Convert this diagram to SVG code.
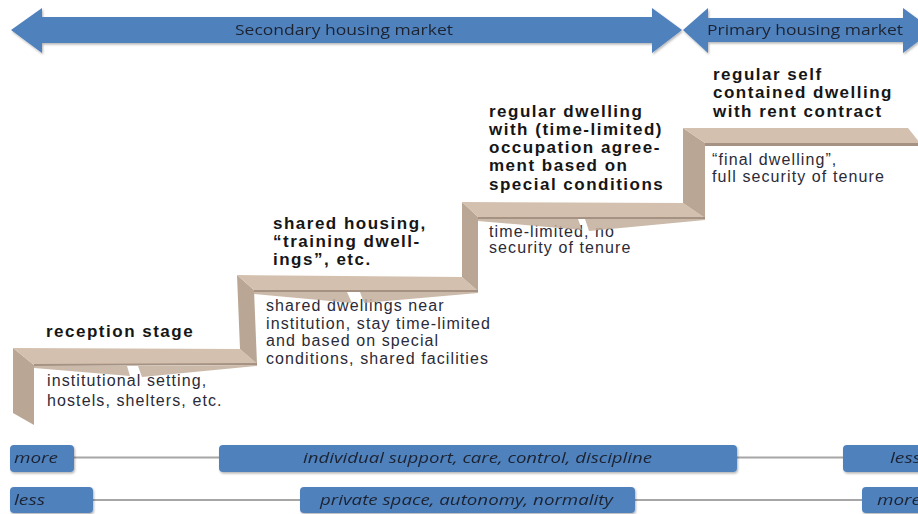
<svg xmlns="http://www.w3.org/2000/svg" width="918" height="514" viewBox="0 0 918 514">
  <defs>
    <style>
      .arrow { fill: #4f81bd; }
      .mk { font-family: "Open Sans", "Liberation Sans", sans-serif; font-size: 14px; fill: #1c2433; }
      .bar { fill: #4f81bd; }
      .bt { font-family: "Open Sans", "Liberation Sans", sans-serif; font-size: 14px; font-style: italic; fill: #1c2433; }
      .tread { fill: #d4c0ae; }
      .riser { fill: #b9a694; }
      .wedge { fill: #c2ad9a; opacity: 0.85; }
      .lip { fill: #a59282; }
      .title { font-family: "Liberation Sans", Arial, sans-serif; font-weight: bold; font-size: 17px; letter-spacing: 1.5px; fill: #161616; }
      .desc { font-family: "Liberation Sans", Arial, sans-serif; font-size: 16px; letter-spacing: 1.1px; fill: #2b2b38; }
      .conn { stroke: #a6a6a6; stroke-width: 2; fill: none; }
    </style>
    <filter id="shadow" x="-5%" y="-20%" width="110%" height="160%">
      <feDropShadow dx="1" dy="1.5" stdDeviation="1" flood-color="#000" flood-opacity="0.3"/>
    </filter>
  </defs>

  <rect width="918" height="514" fill="#ffffff"/>

  <!-- market arrows -->
  <g id="secondary-market" filter="url(#shadow)">
    <polygon class="arrow" points="11,30 42,8 42,17 652,17 652,8 682,30 652,53 652,43 42,43 42,53"/>
    <text class="mk" x="235" y="35" textLength="218" lengthAdjust="spacingAndGlyphs">Secondary housing market</text>
  </g>
  <g id="primary-market" filter="url(#shadow)">
    <polygon class="arrow" points="683,30 708,8 708,18 903,18 903,8 933,30 903,53 903,42 708,42 708,53"/>
    <text class="mk" x="707" y="35" textLength="196" lengthAdjust="spacingAndGlyphs">Primary housing market</text>
  </g>

  <!-- staircase body -->
  <g id="staircase">
    <polygon class="riser" points="13,348 34,365 34,425 13,413"/>
    <polygon class="tread" points="13,348 240,349 257,364 34,365"/>
    <polygon class="riser" points="237,275 254,290 257,364 240,349"/>
    <polygon class="tread" points="237,275 462,277 478,291 254,290"/>
    <polygon class="riser" points="462,202 478,217 478,291 462,277"/>
    <polygon class="tread" points="462,202 683,203 705,218 478,217"/>
    <polygon class="riser" points="683,128 705,143 705,218 683,203"/>
    <polygon class="tread" points="683,128 908,128 920,143 705,143"/>
  </g>

  <!-- stage 1 -->
  <g id="stage-reception">
    <text class="title" x="46" y="337">reception stage</text>
    <text class="desc" x="47" y="386">institutional setting,</text>
    <text class="desc" x="47" y="406">hostels, shelters, etc.</text>
    <polygon class="lip" points="34,364 257,363 257,365 34,366"/>
    <polygon class="wedge" points="34,366 127,366 130,376 34,368"/>
    <polygon class="wedge" points="138,366 257,365 257,366 142,377"/>
  </g>

  <!-- stage 2 -->
  <g id="stage-shared">
    <text class="title" x="273" y="229">shared housing,</text>
    <text class="title" x="273" y="247">“training dwell-</text>
    <text class="title" x="273" y="265">ings”, etc.</text>
    <text class="desc" x="266" y="311">shared dwellings near</text>
    <text class="desc" x="266" y="329">institution, stay time-limited</text>
    <text class="desc" x="266" y="346">and based on special</text>
    <text class="desc" x="266" y="364">conditions, shared facilities</text>
    <polygon class="lip" points="254,290 478,290 478,292 254,292"/>
    <polygon class="wedge" points="254,292 347,292 352,303 254,294"/>
    <polygon class="wedge" points="360,292 478,292 478,293 364,303"/>
  </g>

  <!-- stage 3 -->
  <g id="stage-regular">
    <text class="title" x="489" y="117">regular dwelling</text>
    <text class="title" x="489" y="135">with (time-limited)</text>
    <text class="title" x="489" y="153">occupation agree-</text>
    <text class="title" x="489" y="171">ment based on</text>
    <text class="title" x="489" y="190">special conditions</text>
    <text class="desc" x="489" y="237">time-limited, no</text>
    <text class="desc" x="489" y="253">security of tenure</text>
    <polygon class="lip" points="478,217 705,217 705,219 478,219"/>
    <polygon class="wedge" points="478,219 578,219 582,230 478,221"/>
    <polygon class="wedge" points="585,219 705,219 705,220 589,231"/>
  </g>

  <!-- stage 4 -->
  <g id="stage-final">
    <text class="title" x="713" y="80">regular self</text>
    <text class="title" x="713" y="98">contained dwelling</text>
    <text class="title" x="713" y="117">with rent contract</text>
    <text class="desc" x="712" y="165">“final dwelling”,</text>
    <text class="desc" x="712" y="182">full security of tenure</text>
    <polygon class="lip" points="705,143 918,143 918,146 705,146"/>
  </g>

  <!-- rails joining the scale boxes -->
  <g id="connectors">
    <line class="conn" x1="74" y1="457.5" x2="219" y2="457.5"/>
    <line class="conn" x1="737" y1="457.5" x2="843" y2="457.5"/>
    <line class="conn" x1="93" y1="500" x2="300" y2="500"/>
    <line class="conn" x1="635" y1="500" x2="862" y2="500"/>
  </g>

  <!-- support scale -->
  <g id="support-more" filter="url(#shadow)">
    <rect class="bar" x="10" y="445" width="64" height="27" rx="4"/>
    <text class="bt" x="14" y="463" textLength="44" lengthAdjust="spacingAndGlyphs">more</text>
  </g>
  <g id="support" filter="url(#shadow)">
    <rect class="bar" x="219" y="445" width="518" height="27" rx="4"/>
    <text class="bt" x="303" y="463" textLength="349" lengthAdjust="spacingAndGlyphs">individual support, care, control, discipline</text>
  </g>
  <g id="support-less" filter="url(#shadow)">
    <rect class="bar" x="843" y="445" width="90" height="27" rx="4"/>
    <text class="bt" x="890" y="463" textLength="31" lengthAdjust="spacingAndGlyphs">less</text>
  </g>

  <!-- autonomy scale -->
  <g id="autonomy-less" filter="url(#shadow)">
    <rect class="bar" x="10" y="487" width="83" height="26" rx="4"/>
    <text class="bt" x="14" y="505" textLength="31" lengthAdjust="spacingAndGlyphs">less</text>
  </g>
  <g id="autonomy" filter="url(#shadow)">
    <rect class="bar" x="300" y="487" width="335" height="26" rx="4"/>
    <text class="bt" x="320" y="505" textLength="293" lengthAdjust="spacingAndGlyphs">private space, autonomy, normality</text>
  </g>
  <g id="autonomy-more" filter="url(#shadow)">
    <rect class="bar" x="862" y="487" width="70" height="26" rx="4"/>
    <text class="bt" x="877" y="505" textLength="44" lengthAdjust="spacingAndGlyphs">more</text>
  </g>
</svg>
